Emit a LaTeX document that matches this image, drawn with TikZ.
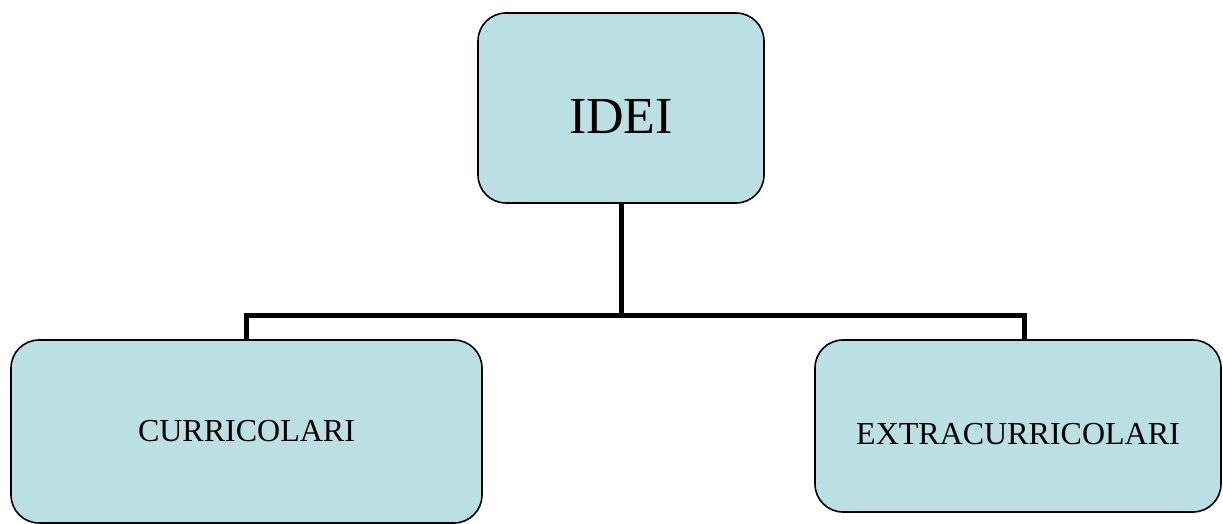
\documentclass[tikz,border=0pt]{standalone}
\usepackage{fontspec}
\setmainfont{Liberation Serif}
\definecolor{boxblue}{RGB}{187,224,227}
\tikzset{
  ideabox/.style={draw, thick, fill=boxblue, rounded corners=14pt, align=center},
  conn/.style={line width=2.5pt}
}
\begin{document}
\begin{tikzpicture}[x=0.5pt, y=-0.5pt]
  \useasboundingbox (0,0) rectangle (1223,524);
  % cutii
  \node [ideabox, minimum width=143pt, minimum height=95pt, text height=26pt, text depth=0pt, font=\fontsize{26}{30}\selectfont] (idei) at (621,108) {IDEI};
  \node [ideabox, minimum width=235.5pt, minimum height=91.5pt, font=\fontsize{16}{19}\selectfont] (curr) at (246.5,431.5) {CURRICOLARI};
  \node [ideabox, minimum width=203pt, minimum height=86pt, text height=18.6pt, text depth=0pt, font=\fontsize{16}{19}\selectfont] (extra) at (1018,426) {EXTRACURRICOLARI};

  % legaturi
  \coordinate (j) at (621,316);
  \draw [conn] (idei.south) -- (j);
  \draw [conn] (curr.north) |- (j) -| ([xshift=3pt]extra.north);
\end{tikzpicture}
\end{document}
